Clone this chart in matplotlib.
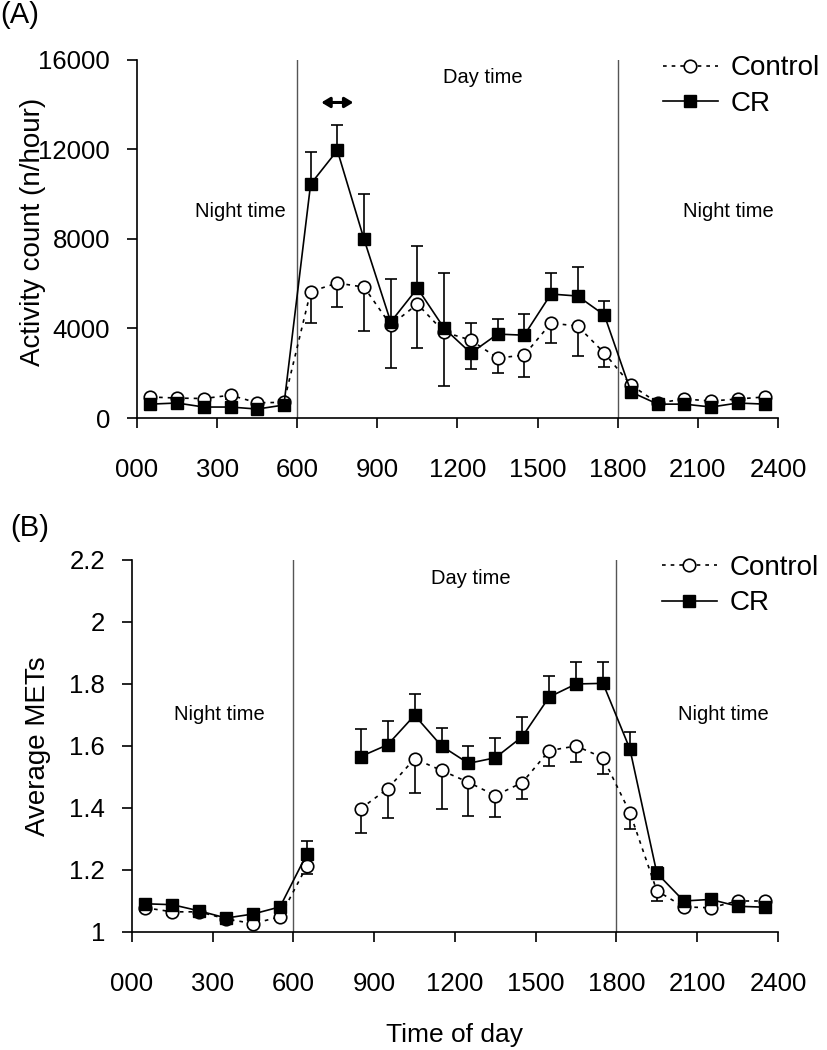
import numpy as np
import matplotlib
matplotlib.use("Agg")
import matplotlib.pyplot as plt

plt.rcParams["font.family"] = ["Liberation Sans", "DejaVu Sans"]

nan = np.nan

# hour-of-day bin centres
time_of_day = [50, 150, 250, 350, 450, 550, 650, 750, 850, 950, 1050, 1150,
               1250, 1350, 1450, 1550, 1650, 1750, 1850, 1950, 2050, 2150, 2250, 2350]
xtick_vals = [0, 300, 600, 900, 1200, 1500, 1800, 2100, 2400]
xtick_labels = ["000", "300", "600", "900", "1200", "1500", "1800", "2100", "2400"]

# (A) activity count (n/hour)
ctrl_act = [940, 890, 870, 1020, 680, 700, 5650, 6030, 5850, 4150, 5090, 3840,
            3480, 2680, 2810, 4240, 4110, 2900, 1470, 670, 850, 760, 850, 940]
ctrl_act_err = [150, 150, 150, 150, 150, 150, 1400, 1080, 1970, 1920, 1960, 2410,
                1290, 680, 980, 890, 1340, 620, 150, 150, 150, 150, 150, 150]
cr_act = [620, 670, 490, 490, 400, 580, 10450, 11960, 7990, 4290, 5800, 4010,
          2900, 3750, 3700, 5540, 5450, 4600, 1160, 620, 620, 490, 670, 620]
cr_act_err = [150, 150, 150, 150, 150, 150, 1420, 1120, 2010, 1910, 1880, 2460,
              1340, 670, 940, 930, 1290, 620, 150, 150, 150, 150, 150, 150]

# (B) average METs (no data at 0700-0800)
ctrl_met = [1.078, 1.065, 1.065, 1.042, 1.027, 1.049, 1.213, nan, 1.398, 1.462, 1.559, 1.521,
            1.483, 1.440, 1.482, 1.585, 1.600, 1.562, 1.385, 1.133, 1.081, 1.078, 1.100, 1.100]
ctrl_met_err = [0.01, 0.01, 0.01, 0.01, 0.01, 0.01, 0.026, nan, 0.078, 0.094, 0.110, 0.124,
                0.108, 0.070, 0.053, 0.051, 0.053, 0.054, 0.052, 0.033, 0.01, 0.01, 0.01, 0.01]
cr_met = [1.091, 1.088, 1.068, 1.045, 1.058, 1.081, 1.252, nan, 1.566, 1.604, 1.699, 1.600,
          1.544, 1.562, 1.630, 1.758, 1.800, 1.802, 1.590, 1.190, 1.100, 1.105, 1.083, 1.080]
cr_met_err = [0.01, 0.01, 0.01, 0.01, 0.01, 0.01, 0.042, nan, 0.090, 0.078, 0.068, 0.057,
              0.056, 0.065, 0.062, 0.067, 0.070, 0.070, 0.055, 0.020, 0.01, 0.01, 0.01, 0.01]

met_ticks = [1, 1.2, 1.4, 1.6, 1.8, 2, 2.2]
met_tick_labels = ["1", "1.2", "1.4", "1.6", "1.8", "2", "2.2"]
act_ticks = [0, 4000, 8000, 12000, 16000]

DOTTED = (0, (2.2, 3.0))


def draw_panel(ax, ctrl, ctrl_err, cr, cr_err, leg_y):
    zeros = np.zeros(len(time_of_day))
    ax.errorbar(time_of_day, ctrl, yerr=[ctrl_err, zeros], fmt="none", ecolor="black",
                elinewidth=1.2, capsize=4, capthick=1.2, zorder=2)
    ax.errorbar(time_of_day, cr, yerr=[zeros, cr_err], fmt="none", ecolor="black",
                elinewidth=1.2, capsize=4, capthick=1.2, zorder=2)
    ax.plot(time_of_day, ctrl, linestyle=DOTTED, color="black", lw=1.2, marker="o",
            ms=9, mfc="white", mec="black", mew=1.2, label="Control", zorder=3)
    ax.plot(time_of_day, cr, linestyle="-", color="black", lw=1.2, marker="s",
            ms=8, mfc="black", mec="black", label="CR", zorder=4)
    for xv in (600, 1800):
        ax.axvline(xv, color="#555555", lw=1.0, zorder=1)
    ax.set_xlim(0, 2400)
    ax.set_xticks(xtick_vals)
    ax.set_xticklabels(xtick_labels)
    for s in ("top", "right"):
        ax.spines[s].set_visible(False)
    for s in ("left", "bottom"):
        ax.spines[s].set_linewidth(1.2)
    ax.tick_params(axis="both", direction="out", length=7.5, width=1.2, labelsize=18.5)
    ax.tick_params(axis="x", pad=21)
    ax.tick_params(axis="y", pad=12)
    leg = ax.legend(loc="upper left", bbox_to_anchor=(0.82, leg_y), frameon=False,
                    fontsize=20, handlelength=2.0, handletextpad=0.45,
                    labelspacing=0.35, borderpad=0, borderaxespad=0)
    return leg


fig = plt.figure(figsize=(8.27, 10.5), dpi=100)
ax_a = fig.add_axes([0.1657, 0.6019, 0.775, 0.341])
ax_b = fig.add_axes([0.1596, 0.1124, 0.7811, 0.3543])

draw_panel(ax_a, ctrl_act, ctrl_act_err, cr_act, cr_act_err, 1.013)
ax_a.set_ylim(0, 16000)
ax_a.set_yticks(act_ticks)
ax_a.set_ylabel("Activity count (n/hour)", fontsize=20)
ax_a.yaxis.set_label_coords(-0.142, 0.52)
ax_a.text(386, 9250, "Night time", fontsize=14.5, ha="center", va="center")
ax_a.text(1294, 15200, "Day time", fontsize=14.5, ha="center", va="center")
ax_a.text(2216, 9250, "Night time", fontsize=14.5, ha="center", va="center")
ax_a.annotate("", xy=(690, 14100), xytext=(810, 14100),
              arrowprops=dict(arrowstyle="<|-|>,head_length=0.5,head_width=0.3",
                              color="black", lw=2.2, shrinkA=0, shrinkB=0))

draw_panel(ax_b, ctrl_met, ctrl_met_err, cr_met, cr_met_err, 1.014)
ax_b.set_ylim(1, 2.2)
ax_b.set_yticks(met_ticks)
ax_b.set_yticklabels(met_tick_labels)
ax_b.set_ylabel("Average METs", fontsize=20)
ax_b.yaxis.set_label_coords(-0.126, 0.5)
ax_b.set_xlabel("Time of day", fontsize=19, labelpad=20)
ax_b.text(324, 1.70, "Night time", fontsize=14.5, ha="center", va="center")
ax_b.text(1258, 2.14, "Day time", fontsize=14.5, ha="center", va="center")
ax_b.text(2199, 1.70, "Night time", fontsize=14.5, ha="center", va="center")

fig.text(0.0, 0.986, "(A)", fontsize=21, ha="left", va="center")
fig.text(0.012, 0.497, "(B)", fontsize=21, ha="left", va="center")

fig.savefig("out.png", dpi=100)
